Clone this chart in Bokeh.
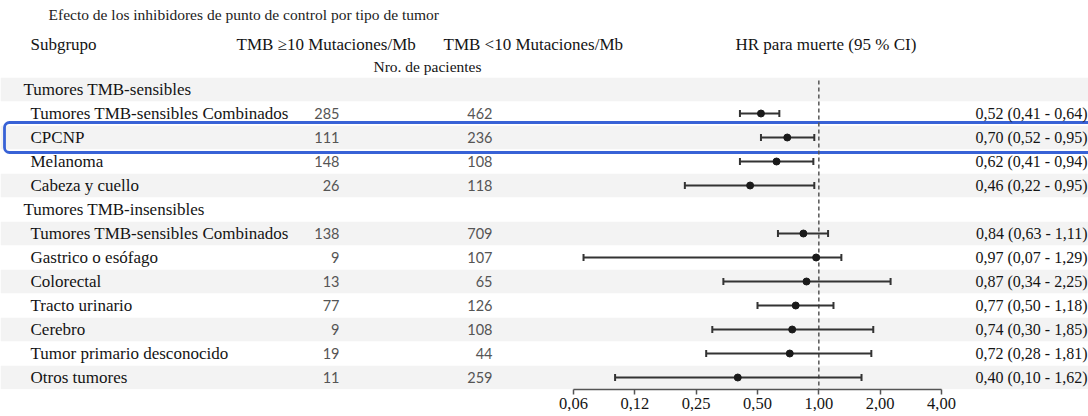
import numpy as np
from bokeh.plotting import figure
from bokeh.models import Range1d, LogScale, LogAxis, FixedTicker, ColumnDataSource
from bokeh.core.properties import value
from bokeh.embed import file_html
from bokeh.resources import INLINE

# ---------------- data ----------------
title = "Efecto de los inhibidores de punto de control por tipo de tumor"
col_headers = ["Subgrupo", "TMB \u226510 Mutaciones/Mb", "TMB <10 Mutaciones/Mb", "HR para muerte (95 % CI)"]
sub_header = "Nro. de pacientes"

groups = ["Tumores TMB-sensibles", "Tumores TMB-insensibles"]
group_sizes = [4, 7]
subgroups = ["Tumores TMB-sensibles Combinados", "CPCNP", "Melanoma", "Cabeza y cuello",
             "Tumores TMB-sensibles Combinados", "Gastrico o es\u00f3fago", "Colorectal",
             "Tracto urinario", "Cerebro", "Tumor primario desconocido", "Otros tumores"]
n_high = [285, 111, 148, 26, 138, 9, 13, 77, 9, 19, 11]
n_low = [462, 236, 108, 118, 709, 107, 65, 126, 108, 44, 259]
hr = [0.52, 0.70, 0.62, 0.46, 0.84, 0.97, 0.87, 0.77, 0.74, 0.72, 0.40]
ci_lo = [0.41, 0.52, 0.41, 0.22, 0.63, 0.07, 0.34, 0.50, 0.30, 0.28, 0.10]
ci_hi = [0.64, 0.95, 0.94, 0.95, 1.11, 1.29, 2.25, 1.18, 1.85, 1.81, 1.62]
highlight = "CPCNP"

tick_vals = [0.0625, 0.125, 0.25, 0.5, 1, 2, 4]
tick_labels = ["0,06", "0,12", "0,25", "0,50", "1,00", "2,00", "4,00"]

# ---------------- row layout ----------------
group_rows, sub_rows = [], []
r = 0
for g, n in zip(groups, group_sizes):
    group_rows.append(r)
    r += 1
    for _ in range(n):
        sub_rows.append(r)
        r += 1
n_rows = r
band_rows = [i for i in range(n_rows) if i % 2 == 0]
hl_row = sub_rows[subgroups.index(highlight)]

# ---------------- geometry (pixels) ----------------
W, FH = 1088, 389
row_px = 24.0
row0_y = 89.0
ax_left_px, ax_right_px = 573.0, 941.0
per_dbl = (ax_right_px - ax_left_px) / (np.log2(tick_vals[-1]) - np.log2(tick_vals[0]))
hr_start = 2 ** (np.log2(tick_vals[0]) - ax_left_px / per_dbl)
hr_end = 2 ** (np.log2(tick_vals[-1]) + (W - ax_right_px) / per_dbl)

def ry(py):
    return (py - row0_y) / row_px

y_top = ry(0)
y_bot = ry(FH)

p = figure(frame_width=W, frame_height=FH,
           x_range=Range1d(0, W), y_range=Range1d(y_bot, y_top),
           x_axis_location=None, y_axis_location=None,
           toolbar_location=None, output_backend="svg",
           min_border=0, outline_line_color=None)
p.grid.visible = False
p.extra_x_ranges = {"hr": Range1d(hr_start, hr_end)}
p.extra_x_scales = {"hr": LogScale()}

serif = value("Liberation Serif")
sans = value("Lato")
ink = "#141414"

# bands
p.hbar(y=band_rows, left=0, right=W, height=0.97, fill_color="#f3f3f3", line_color=None)

# highlight box
p.quad(left=[4], right=[W + 8], top=[hl_row - 0.625], bottom=[hl_row + 0.625],
       fill_color=None, line_color="#3862d6", line_width=2.8, border_radius=5)

# reference line at HR = 1
p.segment(x0=[1], y0=[ry(80)], x1=[1], y1=[y_bot], x_range_name="hr",
          line_color="#555555", line_width=1.5, line_dash="4 3")

src = ColumnDataSource(dict(y=sub_rows, hr=hr, lo=ci_lo, hi=ci_hi, sub=subgroups,
                            nh=[str(v) for v in n_high], nl=[str(v) for v in n_low],
                            ci=[f"{a:.2f} ({b:.2f} - {c:.2f})".replace(".", ",")
                                for a, b, c in zip(hr, ci_lo, ci_hi)]))

p.segment(x0="lo", y0="y", x1="hi", y1="y", source=src, x_range_name="hr",
          line_color="#333333", line_width=2)
p.scatter(x="lo", y="y", source=src, x_range_name="hr", marker="dash", angle=np.pi / 2,
          size=7, line_color="#333333", line_width=2)
p.scatter(x="hi", y="y", source=src, x_range_name="hr", marker="dash", angle=np.pi / 2,
          size=7, line_color="#333333", line_width=2)
p.scatter(x="hr", y="y", source=src, x_range_name="hr", size=7,
          fill_color="#1a1a1a", line_color="#1a1a1a")

# axis
ax = LogAxis(x_range_name="hr", ticker=FixedTicker(ticks=tick_vals),
             bounds=(tick_vals[0], tick_vals[-1]))
ax.major_label_overrides = {v: l for v, l in zip(tick_vals, tick_labels)}
ax.minor_tick_line_color = None
ax.major_tick_in = 0
ax.major_tick_out = 5
ax.axis_line_color = "#555555"
ax.axis_line_width = 1.5
ax.major_tick_line_color = "#555555"
ax.major_tick_line_width = 1.5
ax.major_label_standoff = 3
ax.major_label_text_font = "Liberation Serif"
ax.major_label_text_font_size = "16.5px"
ax.major_label_text_color = ink
p.add_layout(ax, "below")

# texts
p.text(x=[48], y=[ry(14)], text=[title], text_font=serif, text_font_size="15.5px",
       text_color="#222222", text_baseline="middle")
p.text(x=[30, 236, 443, 735], y=[ry(44)] * 4, text=col_headers, text_font=serif,
       text_font_size="17px", text_color=ink, text_baseline="middle")
p.text(x=[373], y=[ry(66)], text=[sub_header], text_font=serif, text_font_size="15.5px",
       text_color=ink, text_baseline="middle")
p.text(x=[23] * len(groups), y=group_rows, text=groups, text_font=serif,
       text_font_size="17px", text_color=ink, text_baseline="middle")
p.text(x=30, y="y", text="sub", source=src, text_font=serif, text_font_size="17px",
       text_color=ink, text_baseline="middle")
p.text(x=339, y="y", text="nh", source=src, text_font=sans, text_font_size="14.5px",
       text_color="#555555", text_baseline="middle", text_align="right")
p.text(x=492, y="y", text="nl", source=src, text_font=sans, text_font_size="14.5px",
       text_color="#555555", text_baseline="middle", text_align="right")
p.text(x=1087, y="y", text="ci", source=src, text_font=serif, text_font_size="16px",
       text_color=ink, text_baseline="middle", text_align="right")

open("out.html", "w").write(file_html(p, INLINE))
